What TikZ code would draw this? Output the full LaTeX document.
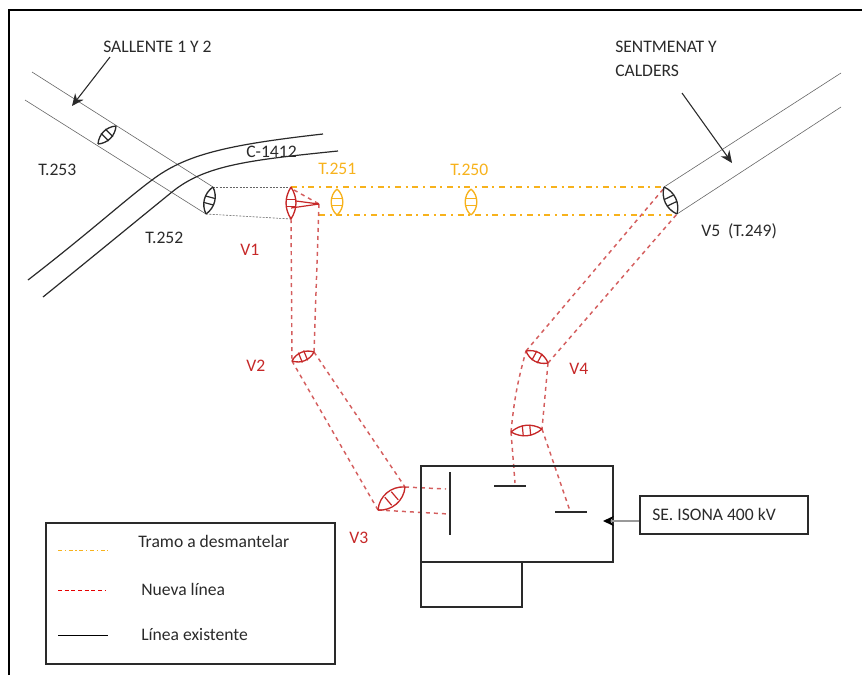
\documentclass[tikz,border=0pt]{standalone}
\usepackage{fontspec}
\setmainfont{Carlito}
\usetikzlibrary{arrows.meta,positioning,calc}
\definecolor{ink}{HTML}{2A2A2A}
\definecolor{amber}{HTML}{F7B21C}
\definecolor{newred}{HTML}{C62828}
\colorlet{hair}{black!60}
\tikzset{label/.style={font=\fontsize{13.2pt}{15pt}\selectfont,text=ink,inner sep=0pt,anchor=west},
  labelred/.style={label,text=newred},
  labelamber/.style={label,text=amber},
  old/.style={draw=amber,line width=.9pt,dash pattern=on 4.5pt off 3.5pt on 1.5pt off 3.5pt},
  new/.style={draw=newred!75,line width=1.1pt,dash pattern=on 3pt off 3pt},
  fine/.style={draw=hair,line width=.45pt},
  cable/.style={draw=ink,line width=.9pt},
  wire/.style={draw=ink,line width=.85pt},
  pointer/.style={draw=ink,line width=.8pt,-{Stealth[length=9pt,width=8pt]}}}
% lens symbol between two points, with two cross bars
\newcommand{\vano}[4]{
  \draw[#3,line width=1pt] (#1) to[bend left=#4] (#2);
  \draw[#3,line width=1pt] (#1) to[bend right=#4] (#2);
  \foreach \t in {.38,.62}{
    \coordinate (m) at ($(#1)!\t!(#2)$);
    \draw[#3,line width=.9pt] ($(m)!4pt!90:(#2)$) -- ($(m)!4pt!-90:(#2)$);}
}
\begin{document}
\begin{tikzpicture}[x=.75pt,y=-.75pt]
\useasboundingbox (0,0) rectangle (862,675);
\draw[black,line width=1.3pt] (9,675) -- (9,10) -- (862,10);
\foreach \n/\x/\y in {su/32/72,sl/25/100,ru/213/187,rl/206/214,au/291/187,al/291/219,bt/319/204,
  cu/314/352,cl/292/361,du/405/487,dl/378/510,eu/446/489,el/449/514,
  fl/526/351,fr/548/363,gl/511/432,gr/542/429,hl/515/483,hr/570/511,
  vu/664/187,vl/677/214,ou/841/73,ol/841/107,yu/665/187,yl/672/215,ys/319/215}{
  \coordinate (\n) at (\x,\y);}
\draw[fine] (su) -- (ru);
\draw[fine] (sl) -- (rl);
\draw[fine] (vu) -- (ou);
\draw[fine] (vl) -- (ol);
\draw[fine,dash pattern=on 1.5pt off 1pt] (ru) -- (au);
\draw[fine,dash pattern=on 1.5pt off 1pt] (rl) -- (al);
\draw[cable] (28,280) .. controls (90,232) and (125,200) .. (152,180) .. controls (185,155) and (225,145) .. (323,134);
\draw[cable] (43,297) .. controls (95,255) and (135,222) .. (172,192) .. controls (205,165) and (250,160) .. (338,151);
\draw[old] (au) -- (yu);
\draw[old] (ys) -- (yl);
\draw[new] (al) -- (cl);
\draw[new] (bt) -- (cu);
\draw[new] (cu) -- (du);
\draw[new] (cl) -- (dl);
\draw[new] (du) -- (eu);
\draw[new] (dl) -- (el);
\draw[new] (gl) to[bend left=5] (fl);
\draw[new] (fr) -- (gr);
\draw[new] (gl) -- (hl);
\draw[new] (gr) -- (hr);
\draw[new] (fl) -- (yu);
\draw[new] (fr) -- (vl);
\draw[new] ($(au)+(3,3)$) -- (bt);
\draw[newred,line width=.9pt] (296,201) -- (bt);
\draw[newred,line width=.9pt] (291,208) -- (bt);
\vano{116,126}{98,144}{ink}{40}
\vano{ru}{rl}{ink}{40}
\vano{au}{al}{newred}{32}
\vano{337,189}{337,215}{amber}{50}
\vano{471,189}{471,215}{amber}{50}
\vano{cl}{cu}{newred}{40}
\vano{dl}{du}{newred}{45}
\vano{gl}{gr}{newred}{35}
\vano{fl}{fr}{newred}{40}
\vano{vu}{vl}{ink}{40}
\draw[wire] (421,466) rectangle (613,562);
\draw[wire] (421,562) rectangle (522,607);
\draw[wire] (450,472) -- (450,535);
\draw[wire] (494,486) -- (526,486);
\draw[wire] (555,512) -- (587,512);
\node[draw=ink,line width=.85pt,minimum width=126pt,minimum height=28.5pt,inner sep=0pt] (se) at (724,515) {};
\node[label] (selabel) at (652,514) {SE. ISONA 400 kV};
\coordinate (sp) at (se.west |- 0,521);
\coordinate (sq) at (603,521);
\draw[draw=black!40,line width=1.6pt,-{Stealth[black,length=8pt,width=7.5pt]}] (sp) -- (sq);
\coordinate (sa) at (110,57);
\coordinate (sb) at (72,106);
\coordinate (ca) at (682,93);
\coordinate (cb) at (732,163);
\draw[pointer] (sa) -- (sb);
\draw[pointer] (ca) -- (cb);
\foreach \n/\x/\y/\s in {t1/103/47/SALLENTE 1 Y 2,t2/615/47/SENTMENAT Y,t3/615/71/CALDERS,t4/38/170/T.253,
  t5/145/238/T.252,t6/246/152/C-1412,t7/701/231/V5\ \ (T.249)}{
  \node[label] (\n) at (\x,\y) {\s};}
\foreach \n/\x/\y/\s in {v1/240/250/V1,v2/246/366/V2,v3/349/538/V3,v4/569/369/V4}{
  \node[labelred] (\n) at (\x,\y) {\s};}
\foreach \n/\x/\y/\s in {a1/318/169/T.251,a2/450/170/T.250}{
  \node[labelamber] (\n) at (\x,\y) {\s};}
\node[draw=ink,line width=.85pt,minimum width=216.75pt,minimum height=105.75pt,inner sep=0pt] (legend) at (190.5,593.5) {};
\coordinate (la) at (58,550);
\coordinate (lb) at (108,550);
\coordinate (lc) at (58,590);
\coordinate (ld) at (106,590);
\coordinate (le) at (58,635);
\coordinate (lf) at (108,635);
\draw[draw=amber,line width=.7pt,dash pattern=on 3pt off 2pt on 1pt off 2pt] (la) -- (lb);
\draw[draw=red!90!black,line width=.7pt,dash pattern=on 3pt off 2pt] (lc) -- (ld);
\draw[draw=black,line width=.7pt] (le) -- (lf);
\node[label] (l1) at (138,541) {Tramo a desmantelar};
\node[label] (l2) at (141,589) {Nueva línea};
\node[label] (l3) at (141,634) {Línea existente};
\end{tikzpicture}
\end{document}
